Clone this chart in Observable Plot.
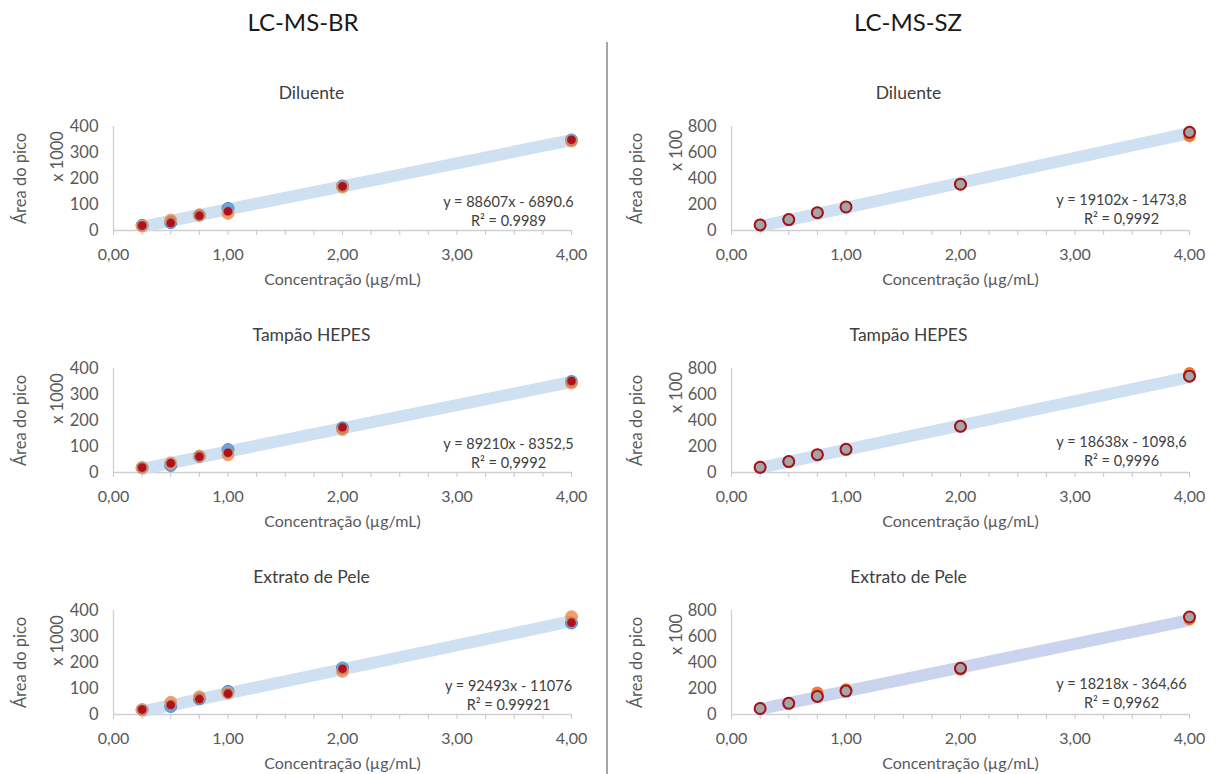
<!DOCTYPE html>
<html><head><meta charset="utf-8">
<script src="https://cdn.jsdelivr.net/npm/d3@7"></script>
<script src="https://cdn.jsdelivr.net/npm/@observablehq/plot@0.6"></script>
<style>
body{margin:0;background:#fff;font-family:Lato,"Open Sans",sans-serif}
#root{position:relative;width:1218px;height:774px;overflow:hidden;background:#fff}
.col-title{position:absolute;top:7px;font-size:24px;line-height:30px;color:#1a1a1a;transform:translateX(-50%);white-space:nowrap}
.divider{position:absolute;left:606px;top:42px;width:1.5px;height:740px;background:#a6a6a6}
.panel{position:absolute}
</style></head><body><div id="root"></div>
<script>
// ---------- data ----------
const concentrations = [0.25, 0.5, 0.75, 1, 2, 4];
const columnTitles = ["LC-MS-BR", "LC-MS-SZ"];
const matrixNames = ["Diluente", "Tampão HEPES", "Extrato de Pele"];
const yScaleLabels = ["x 1000", "x 100"];
const yTicksBR = [0, 100, 200, 300, 400];
const yTicksSZ = [0, 200, 400, 600, 800];
const xTicks = [0, 0.25, 0.5, 0.75, 1, 1.25, 1.5, 1.75, 2, 2.25, 2.5, 2.75, 3, 3.25, 3.5, 3.75, 4];

// LC-MS-BR (peak area x 1000)
const brDiluenteBlue   = [20, 30, 59, 85, 171, 348];
const brDiluenteOrange = [17, 40, 60, 66, 167, 344];
const brDiluenteRed    = [19, 29, 57, 74, 170, 349];
const brHepesBlue      = [18, 27, 62, 88, 172, 350];
const brHepesOrange    = [19, 37, 63, 68, 165, 344];
const brHepesRed       = [19, 36, 61, 76, 174, 352];
const brPeleBlue       = [18, 31, 60, 89, 179, 352];
const brPeleOrange     = [18, 47, 68, 82, 166, 376];
const brPeleRed        = [19, 37, 59, 80, 176, 353];

// LC-MS-SZ (peak area x 100)
const szDiluenteBlue   = [43, 84, 137, 181, 356, 755];
const szDiluenteOrange = [43, 84, 137, 181, 356, 725];
const szDiluenteGray   = [43, 84, 137, 181, 356, 755];
const szHepesBlue      = [40, 84, 137, 178, 355, 741];
const szHepesOrange    = [40, 84, 137, 178, 355, 766];
const szHepesGray      = [40, 84, 137, 178, 355, 741];
const szPeleBlue       = [46, 86, 139, 180, 355, 750];
const szPeleOrange     = [46, 86, 170, 195, 345, 730];
const szPeleGray       = [46, 86, 139, 180, 355, 750];

// trend-line equations (slope, intercept in raw units) and labels
const brSlopes = [88607, 89210, 92493];
const brIntercepts = [-6890.6, -8352.5, -11076];
const szSlopes = [19102, 18638, 18218];
const szIntercepts = [-1473.8, -1098.6, -364.66];
const brEquations = ["y = 88607x - 6890.6\nR² = 0.9989", "y = 89210x - 8352,5\nR² = 0,9992", "y = 92493x - 11076\nR² = 0.99921"];
const szEquations = ["y = 19102x - 1473,8\nR² = 0,9992", "y = 18638x - 1098,6\nR² = 0,9996", "y = 18218x - 364,66\nR² = 0,9962"];
const yLabel = "Área do pico";
const xLabel = "Concentração (µg/mL)";

// ---------- layout ----------
const root = document.getElementById("root");
const divider = document.createElement("div"); divider.className = "divider"; root.appendChild(divider);
[[columnTitles[0], 303], [columnTitles[1], 908]].forEach(([t, cx]) => {
  const d = document.createElement("div"); d.className = "col-title"; d.textContent = t; d.style.left = cx + "px"; root.appendChild(d);
});

const series = {
  br: [[brDiluenteBlue, brDiluenteOrange, brDiluenteRed], [brHepesBlue, brHepesOrange, brHepesRed], [brPeleBlue, brPeleOrange, brPeleRed]],
  sz: [[szDiluenteBlue, szDiluenteOrange, szDiluenteGray], [szHepesBlue, szHepesOrange, szHepesGray], [szPeleBlue, szPeleOrange, szPeleGray]]
};
const fmtX = d => Number.isInteger(d) ? d.toFixed(2).replace(".", ",") : "";

function makePanel(col, row) {
  const isBR = col === 0;
  const key = isBR ? "br" : "sz";
  const div = isBR ? 1000 : 100;
  const [blue, orange, third] = series[key][row];
  const slope = (isBR ? brSlopes : szSlopes)[row] / div;
  const intercept = (isBR ? brIntercepts : szIntercepts)[row] / div;
  const trend = [concentrations[0], concentrations[concentrations.length - 1]].map(x => ({x, y: slope * x + intercept}));
  const rows = (vals) => concentrations.map((c, i) => ({c, v: vals[i]}));
  const width = isBR ? 600 : 608;
  const ml = isBR ? 113 : 121;
  const subDx = isBR ? -31 : -52;
  const eqDx = isBR ? -63 : -68;
  const eqDy = isBR ? -20 : -22;
  const ylDx = isBR ? -93 : -95;
  const sclDx = isBR ? -56 : -55;
  const sclDy = isBR ? -22 : -28;
  const bandColor = (!isBR && row === 2) ? "#cad4ee" : "#cfe0f2";
  const dots = isBR ? [
    Plot.dot(rows(blue), {x: "c", y: "v", r: 6, fill: "#5b9bd5", fillOpacity: 0.85, stroke: "#4f8cc9", strokeWidth: 1}),
    Plot.dot(rows(orange), {x: "c", y: "v", r: 6, fill: "#ed7d31", fillOpacity: 0.75, stroke: "#f0a070", strokeWidth: 1}),
    Plot.dot(rows(third), {x: "c", y: "v", r: 4.6, fill: "#b0101c", stroke: "#9a9a9a", strokeWidth: 0.8, strokeOpacity: 0.6})
  ] : [
    Plot.dot(rows(blue), {x: "c", y: "v", r: 6, fill: "#5b9bd5"}),
    Plot.dot(rows(orange), {x: "c", y: "v", r: 6, fill: "#ed7d31"}),
    Plot.dot(rows(third), {x: "c", y: "v", r: 5.5, fill: "#a5a5a5", stroke: "#a50f17", strokeWidth: 2})
  ];
  const chart = Plot.plot({
    width, height: 242,
    marginLeft: ml, marginRight: 29, marginTop: 56, marginBottom: 82,
    style: {fontFamily: "Lato, 'Open Sans', sans-serif", fontSize: "16px", color: "#595959", background: "transparent", overflow: "visible"},
    x: {domain: [0, 4]},
    y: {domain: isBR ? [0, 400] : [0, 800]},
    marks: [
      Plot.ruleY([0], {stroke: "#d0d0d0", strokeWidth: 1.3}),
      Plot.ruleX([0], {stroke: "#d0d0d0", strokeWidth: 1.3}),
      Plot.axisX({ticks: xTicks, tickSize: 5, tickPadding: 13, tickFormat: fmtX, stroke: "#c8c8c8", label: null, fontSize: 16}),
      Plot.axisY({ticks: isBR ? yTicksBR : yTicksSZ, tickSize: 0, tickPadding: 15, tickFormat: d => String(d), label: null, fontSize: 16.5}),
      Plot.line(trend, {x: "x", y: "y", stroke: bandColor, strokeWidth: 12, strokeLinecap: "butt"}),
      ...dots,
      Plot.text([matrixNames[row]], {text: d => d, frameAnchor: "top", dx: subDx, dy: -33, lineAnchor: "middle", fontSize: 17.5, fill: "#404040"}),
      Plot.text([yLabel], {text: d => d, frameAnchor: "left", rotate: -90, dx: ylDx, textAnchor: "middle", lineAnchor: "middle", fontSize: 16.5, fill: "#595959"}),
      Plot.text([yScaleLabels[col]], {text: d => d, frameAnchor: "left", rotate: -90, dx: sclDx, dy: sclDy, textAnchor: "middle", lineAnchor: "middle", fontSize: 16.5, fill: "#595959"}),
      Plot.text([xLabel], {text: d => d, frameAnchor: "bottom", dy: 49, lineAnchor: "middle", fontSize: 16, fill: "#595959"}),
      Plot.text([(isBR ? brEquations : szEquations)[row]], {text: d => d, frameAnchor: "bottom-right", dx: eqDx, dy: eqDy, textAnchor: "middle", lineAnchor: "middle", lineHeight: 1.3, fontSize: 14.5, fill: "#404040"})
    ]
  });
  chart.classList.add("panel");
  chart.style.left = (isBR ? 0 : 610) + "px";
  chart.style.top = (70 + 242 * row) + "px";
  root.appendChild(chart);
}
for (let col = 0; col < 2; col++) for (let row = 0; row < 3; row++) makePanel(col, row);
</script></body></html>
